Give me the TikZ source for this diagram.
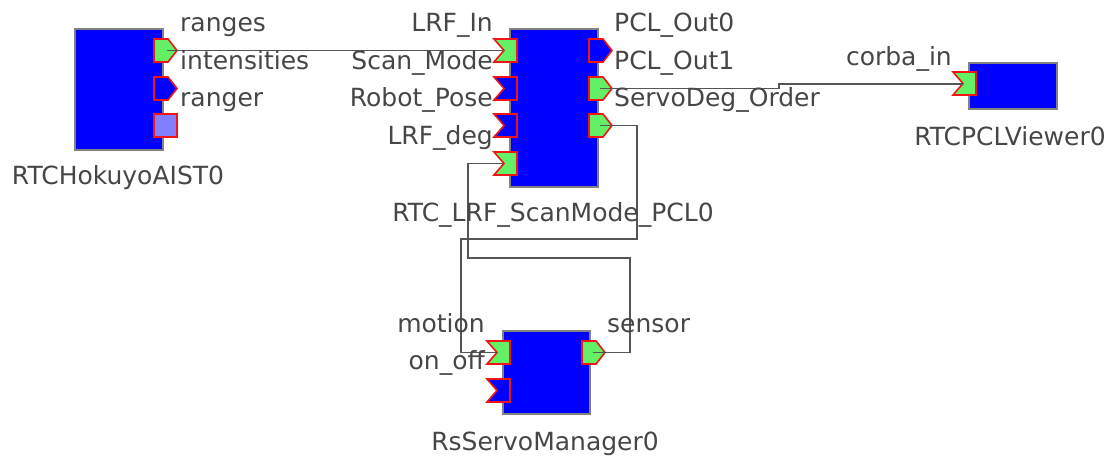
\documentclass[tikz,border=0pt]{standalone}
\usepackage{fontspec}
\setmainfont{DejaVu Sans}
\definecolor{portgreen}{RGB}{100,240,100}
\definecolor{portlight}{RGB}{128,128,255}
\definecolor{portred}{RGB}{240,20,20}
\definecolor{blockedge}{RGB}{130,130,130}
\definecolor{wire}{RGB}{85,85,85}
\definecolor{txt}{RGB}{70,70,70}
\tikzset{
  block/.style={draw=blockedge, line width=1.6pt, fill=blue, inner sep=0pt, anchor=north west},
  port/.style={draw=portred, line width=1.6pt, line join=miter},
  lbl/.style={inner sep=0pt, text=txt, font=\fontsize{25}{29}\selectfont},
  wirestyle/.style={draw=wire, line width=1.6pt}
}
\newcommand\myoutport[3]{\draw[port, fill=#1] (#2,#3) -- ++(14,0) -- ++(9,11.5) -- ++(-9,11.5) -- ++(-14,0) -- cycle;}
\newcommand\myinport[3]{\draw[port, fill=#1] (#2,#3) -- ++(23,0) -- ++(0,23) -- ++(-23,0) -- ++(10,-11.5) -- cycle;}
\begin{document}
\begin{tikzpicture}[x=1pt,y=-1pt]
\useasboundingbox (0,0) rectangle (1112,457);
% blocks
\node[block, minimum width=88pt, minimum height=121pt] (hokuyo) at (74,28) {};
\node[block, minimum width=88pt, minimum height=158pt] (pcl) at (509,28) {};
\node[block, minimum width=88pt, minimum height=46pt] (viewer) at (968,62) {};
\node[block, minimum width=87pt, minimum height=83pt] (servo) at (502,330) {};
% ports
\myoutport{portgreen}{154}{39}
\myoutport{blue}{154}{77}
\draw[port, fill=portlight] (154,114) rectangle ++(23,23);
\myinport{portgreen}{494}{39}
\myinport{blue}{494}{77}
\myinport{blue}{494}{114}
\myinport{portgreen}{494}{152}
\myoutport{blue}{589}{39}
\myoutport{portgreen}{589}{77}
\myoutport{portgreen}{589}{114}
\myinport{portgreen}{953}{72}
\myinport{portgreen}{487}{341}
\myinport{blue}{487}{379}
\myoutport{portgreen}{582}{341}
% connection points
\coordinate (hk-ranges) at (167,50.5);
\coordinate (pcl-lrfin) at (505,50.5);
\coordinate (pcl-servo) at (600,88.5);
\coordinate (viewer-in) at (963,84);
\coordinate (pcl-out3) at (600,125.5);
\coordinate (pcl-deg) at (504,163.5);
\coordinate (servo-motion) at (497,352.5);
\coordinate (servo-sensor) at (593,352.5);
% wires
\draw[wirestyle] (hk-ranges) -- (pcl-lrfin);
\draw[wirestyle] (pcl-servo) -- (779,88.5) -- (779,84) -- (viewer-in);
\draw[wirestyle] (pcl-out3) -| (637,239) -| (461,352.5) -- (servo-motion);
\draw[wirestyle] (servo-sensor) -| (630,258) -| (468,163.5) -- (pcl-deg);
% labels
\node[lbl, anchor=base west] (t1) at (180,32) {ranges};
\node[lbl, anchor=base west] (t2) at (180,70) {intensities};
\node[lbl, anchor=base west] (t3) at (180,107) {ranger};
\node[lbl, anchor=base] (t4) at (118,185) {RTCHokuyoAIST0};
\node[lbl, anchor=base east] (t5) at (493,32) {LRF\_In};
\node[lbl, anchor=base east] (t6) at (493,70) {Scan\_Mode};
\node[lbl, anchor=base east] (t7) at (493,107) {Robot\_Pose};
\node[lbl, anchor=base east] (t8) at (493,145) {LRF\_deg};
\node[lbl, anchor=base west] (t9) at (614,32) {PCL\_Out0};
\node[lbl, anchor=base west] (t10) at (614,70) {PCL\_Out1};
\node[lbl, anchor=base west] (t11) at (614,107) {ServoDeg\_Order};
\node[lbl, anchor=base] (t12) at (553,222) {RTC\_LRF\_ScanMode\_PCL0};
\node[lbl, anchor=base east] (t13) at (952,66) {corba\_in};
\node[lbl, anchor=base] (t14) at (1010,146) {RTCPCLViewer0};
\node[lbl, anchor=base east] (t15) at (485,333) {motion};
\node[lbl, anchor=base east] (t16) at (485,370) {on\_off};
\node[lbl, anchor=base west] (t17) at (607,333) {sensor};
\node[lbl, anchor=base] (t18) at (545,450) {RsServoManager0};
\end{tikzpicture}
\end{document}
